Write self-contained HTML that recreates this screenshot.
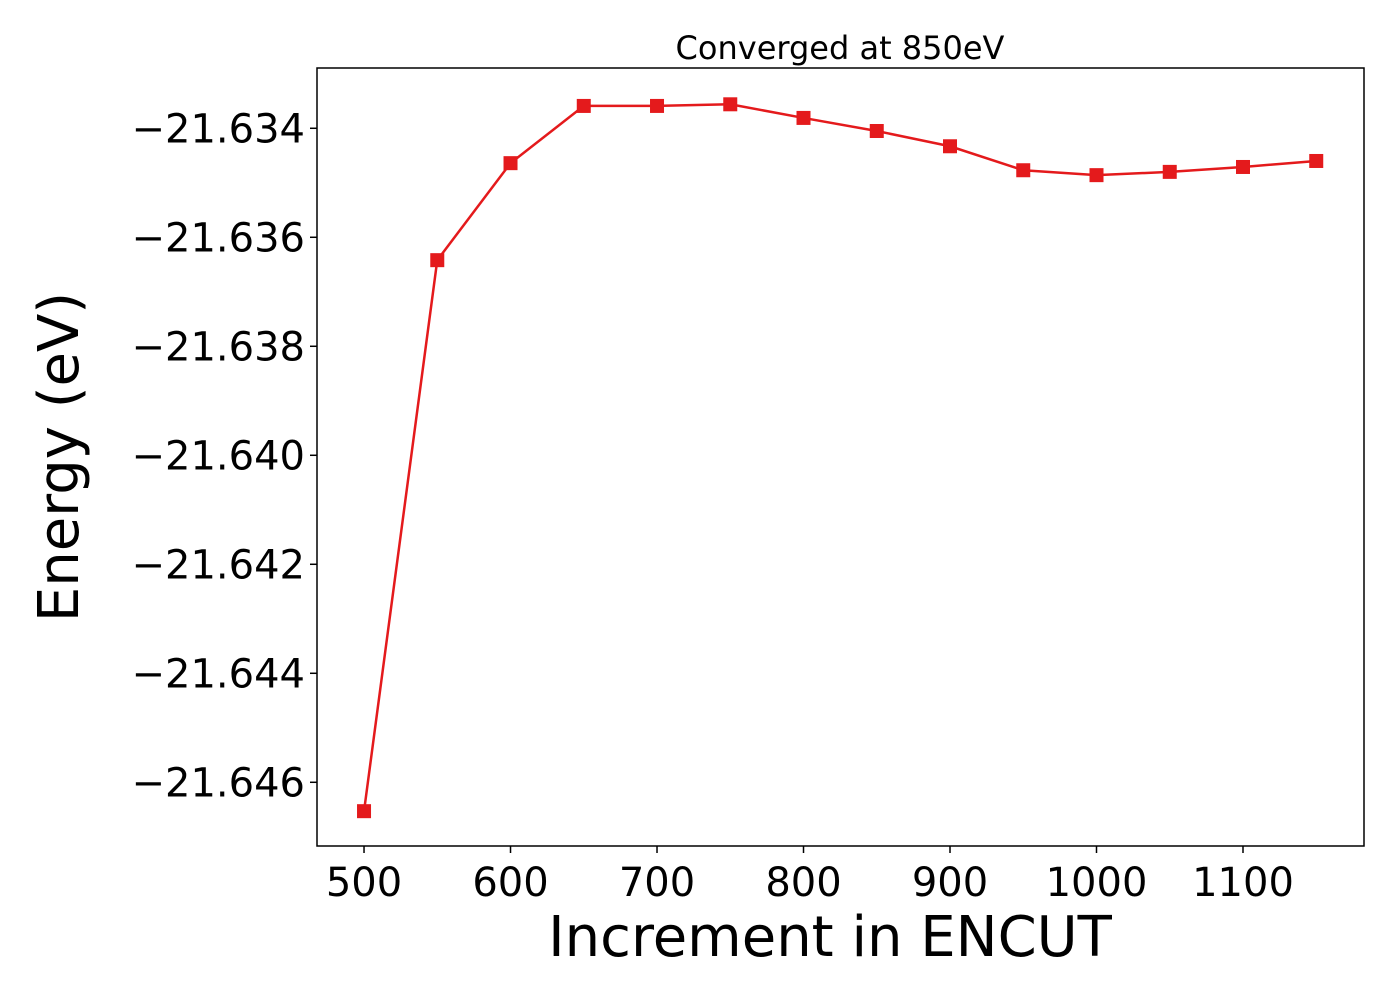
<!DOCTYPE html>
<html><head><meta charset="utf-8"><style>
body{margin:0;background:#fff;}
svg text{font-family:"DejaVu Sans","Liberation Sans",sans-serif;fill:#000;}
</style></head><body>
<svg id="chart" width="1400" height="1000" xmlns="http://www.w3.org/2000/svg">
<rect width="1400" height="1000" fill="#fff"/>
<text x="840" y="59" font-size="32" text-anchor="middle">Converged at 850eV</text>
<g id="ticks"></g>
<g id="series"></g>
<rect x="317" y="68" width="1047" height="778" fill="none" stroke="#000" stroke-width="1.5"/>
<text x="830" y="956" font-size="56" text-anchor="middle">Increment in ENCUT</text>
<text transform="translate(78,457) rotate(-90)" font-size="56" text-anchor="middle">Energy (eV)</text>
</svg>
<script>
const xValues=[500,550,600,650,700,750,800,850,900,950,1000,1050,1100,1150];
const energies=[-21.64653,-21.63642,-21.63464,-21.63359,-21.63359,-21.63356,-21.63381,-21.63405,-21.63433,-21.63477,-21.63486,-21.63480,-21.63471,-21.63460];
const xTicks=[500,600,700,800,900,1000,1100];
const yTicks=[-21.634,-21.636,-21.638,-21.640,-21.642,-21.644,-21.646];
const yTickLabels=["\u221221.634","\u221221.636","\u221221.638","\u221221.640","\u221221.642","\u221221.644","\u221221.646"];

const L=317,R=1364,T=68,B=846;
const xMin=467.9,xMax=1182.6,yMin=-21.647169,yMax=-21.632894;
const sx=v=>L+(v-xMin)/(xMax-xMin)*(R-L);
const sy=v=>B-(v-yMin)/(yMax-yMin)*(B-T);
const NS="http://www.w3.org/2000/svg";
const tg=document.getElementById('ticks'),sg=document.getElementById('series');
function mk(tag,attrs,parent){const e=document.createElementNS(NS,tag);for(const k in attrs)e.setAttribute(k,attrs[k]);parent.appendChild(e);return e;}
xTicks.forEach(v=>{
  const x=sx(v);
  const l=mk('line',{x1:x,x2:x,y1:B,y2:B+7,stroke:'#000','stroke-width':1.5},tg);
  
  
  const t=mk('text',{x:x,y:B+50,'font-size':40,'text-anchor':'middle'},tg);
  t.textContent=v;
  
  
});
yTicks.forEach((v,i)=>{
  const y=sy(v);
  const l=mk('line',{x1:L-7,x2:L,y1:y,y2:y,stroke:'#000','stroke-width':1.5},tg);
  
  
  const t=mk('text',{x:L-12,y:y+14,'font-size':40,'text-anchor':'end'},tg);
  t.textContent=yTickLabels[i];
  
  
});
const pts=xValues.map((v,i)=>sx(v)+','+sy(energies[i])).join(' ');
const pl=mk('polyline',{points:pts,fill:'none',stroke:'#e41a1c','stroke-width':2.5},sg);


xValues.forEach((v,i)=>{
  const m=mk('rect',{x:sx(v)-7,y:sy(energies[i])-7,width:14,height:14,fill:'#e41a1c'},sg);
  
  
});
</script>
</body></html>
